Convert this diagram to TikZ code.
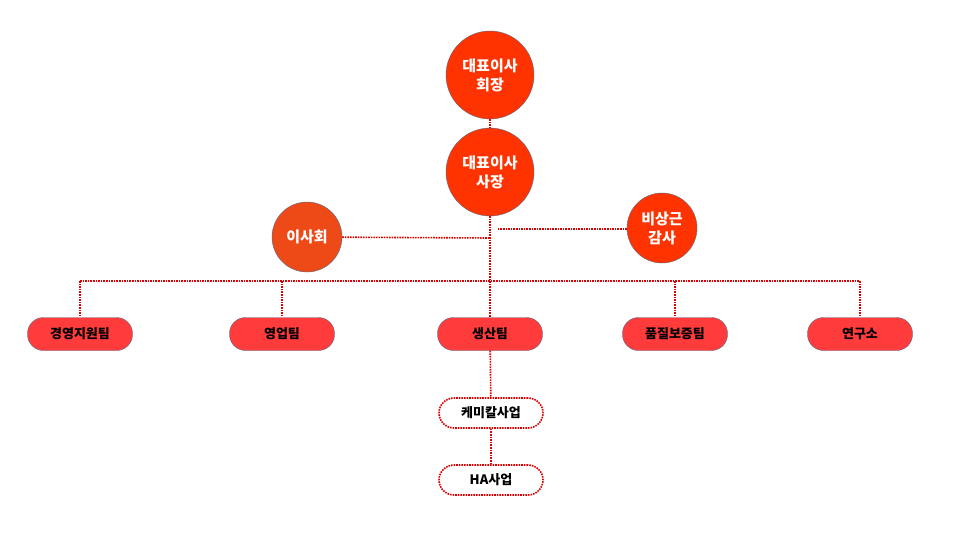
\documentclass[tikz,border=0pt]{standalone}
\usepackage{fontspec}
\setmainfont{Noto Sans CJK KR}
\usepackage{tikz}

\definecolor{headRed}{HTML}{FF3300}
\definecolor{boardRed}{HTML}{EE4A18}
\definecolor{teamRed}{HTML}{FF3B3B}
\definecolor{edgeGray}{HTML}{5A6A86}
\definecolor{linkRed}{HTML}{E00000}

\tikzset{
    head/.style={circle, fill=headRed, draw=edgeGray, minimum size=88pt, inner sep=0pt,
                 align=center, text=white, font=\bfseries\fontsize{15}{19}\selectfont},
    side/.style={head, minimum size=70pt},
    team/.style={rounded corners=16pt, fill=teamRed, draw=edgeGray, minimum width=105pt,
                 minimum height=33pt, font=\bfseries\fontsize{13}{15}\selectfont},
    unit/.style={rounded corners=15pt, draw=linkRed, densely dotted, line width=1.6pt,
                 minimum width=104pt, minimum height=30pt, font=\bfseries\fontsize{13}{15}\selectfont},
    link/.style={linkRed, densely dotted, line width=1.6pt}
}

\begin{document}
\begin{tikzpicture}[x=1pt, y=-1pt]

        \useasboundingbox (0,0) rectangle (960,540);

        % Top management
        \node[head] (ceo) at (490,75) {대표이사\\회장};
        \node[head] (pres) at (490,172) {대표이사\\사장};
        \node[side, fill=boardRed] (board) at (307,237) {이사회};
        \node[side] (audit) at (662,228) {비상근\\감사};

        % Teams
        \foreach \x/\name/\txt in {80/mgmt/경영지원팀, 282/sales/영업팀, 490/prod/생산팀,
                                   675/qa/품질보증팀, 860/lab/연구소} {
            \node[team] (\name) at (\x,334) {\txt};
        }

        % Business units
        \node[unit] (chem) at (491,413) {케미칼사업};
        \node[unit] (ha) at (491,480) {HA사업};

        % Connectors
        \coordinate (bus) at (490,281);
        \coordinate (boardEnd) at (490,238);
        \coordinate (auditEnd) at (497,229);
        \draw[link] (ceo) -- (pres);
        \draw[link] (pres) -- (prod);
        \draw[link] (board) -- (boardEnd);
        \draw[link] (audit.west |- auditEnd) -- (auditEnd);
        \draw[link] (mgmt.north |- bus) -- (lab.north |- bus);
        \foreach \name in {mgmt, sales, qa, lab} {
            \draw[link] (\name.north |- bus) -- (\name.north);
        }
        \draw[link] (prod) -- (chem);
        \draw[link] (chem) -- (ha);

    \end{tikzpicture}
\end{document}
